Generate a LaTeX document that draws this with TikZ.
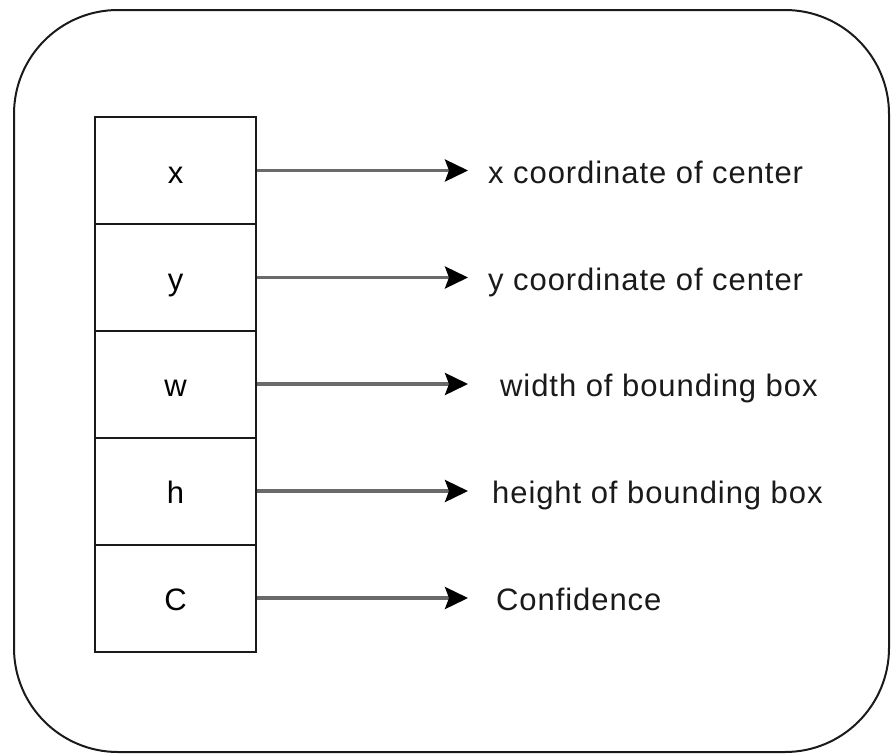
\documentclass[tikz,border=0pt]{standalone}
\usepackage{fontspec}
\setmainfont[LetterSpace=3]{Liberation Sans}
\usetikzlibrary{arrows.meta}
\definecolor{ink}{HTML}{1A1A1A}
\definecolor{wire}{HTML}{6A6A6A}
\tikzset{
  cell/.style={draw=ink, line width=2pt, minimum width=161pt, minimum height=107pt,
    inner sep=0pt, text height=25pt, text depth=0pt, font=\fontsize{31}{35}\selectfont},
  desc/.style={anchor=west, inner sep=0pt, text height=25pt, text depth=0pt,
    text=ink, font=\fontsize{31}{35}\selectfont},
  link/.style={draw=wire, line width=3.5pt,
    -{Stealth[length=23pt, width=22pt, inset=4pt, fill=black, color=black]}},
}
\begin{document}
\begin{tikzpicture}[x=1pt, y=-1pt]
  \useasboundingbox (0,0) rectangle (891,755);
  % outer frame
  \draw[ink, line width=2pt, rounded corners=104pt] (14,10) rectangle (889,752);

  % the five output cells
  \node[cell] (cx) at (175.5,170.5) {x};
  \node[cell] (cy) at (175.5,277.5) {y};
  \node[cell] (cw) at (175.5,384)   {w};
  \node[cell] (ch) at (175.5,491)   {h};
  \node[cell] (cc) at (175.5,598)   {C};

  % arrow tips
  \coordinate (tx) at (468,170.5);
  \coordinate (ty) at (468,277.5);
  \coordinate (tw) at (468,384);
  \coordinate (th) at (468,491);
  \coordinate (tc) at (468,598);

  % descriptions
  \node[desc] (dx) at (488,170.5) {x coordinate of center};
  \node[desc] (dy) at (488,277.5) {y coordinate of center};
  \node[desc] (dw) at (500,384)   {width of bounding box};
  \node[desc] (dh) at (492,491)   {height of bounding box};
  \node[desc] (dc) at (496,598)   {Confidence};

  % connectors
  \draw[link] (cx.east) -- (tx);
  \draw[link] (cy.east) -- (ty);
  \draw[link] (cw.east) -- (tw);
  \draw[link] (ch.east) -- (th);
  \draw[link] (cc.east) -- (tc);
\end{tikzpicture}
\end{document}
